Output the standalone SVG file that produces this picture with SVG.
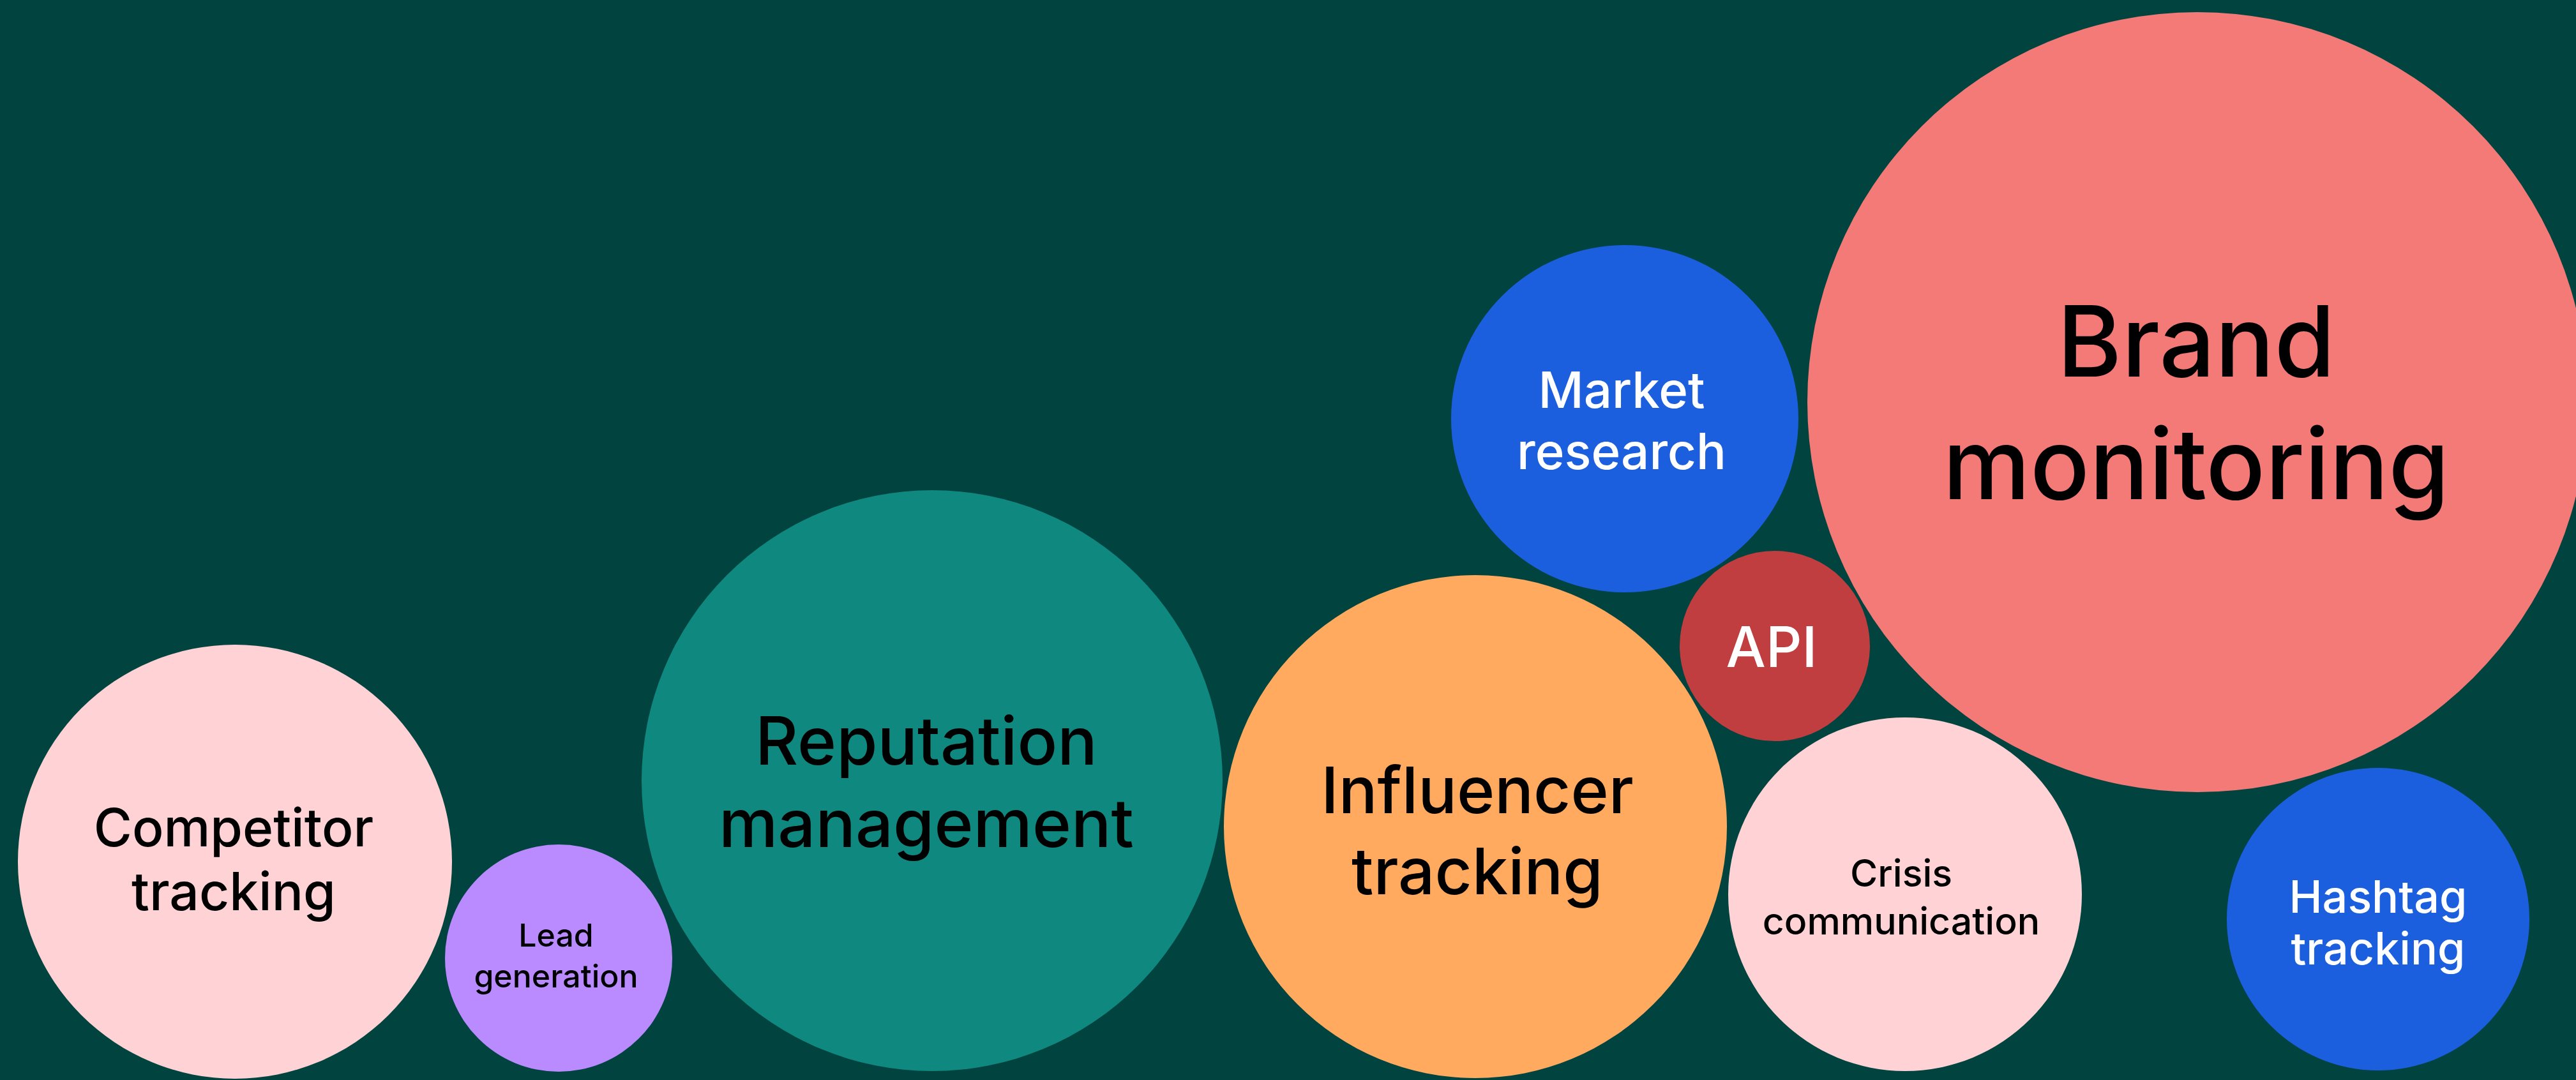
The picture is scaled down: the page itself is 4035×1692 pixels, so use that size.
<svg xmlns="http://www.w3.org/2000/svg" width="4035" height="1692" viewBox="0 0 4035 1692">
<style>
text{font-family:Inter,"Liberation Sans",sans-serif;font-weight:500;text-anchor:middle}
.dk{fill:#000000}
.lt{fill:#ffffff}
.pink{fill:#FFD3D5}
.blue{fill:#1B5FDF}
</style>
<rect width="4035" height="1692" fill="#01443F"/>
<g id="competitor-tracking">
<circle class="pink" cx="368" cy="1350" r="340"/>
<text class="dk" x="366" y="1326" font-size="82">Competitor</text>
<text class="dk" x="366" y="1426" font-size="82">tracking</text>
</g>
<g id="lead-generation">
<circle cx="875" cy="1501" r="178" fill="#B98BFF"/>
<text class="dk" x="871" y="1483" font-size="50">Lead</text>
<text class="dk" x="871" y="1547" font-size="50">generation</text>
</g>
<g id="reputation-management">
<circle cx="1460" cy="1223" r="455" fill="#0F8880"/>
<text class="dk" x="1451" y="1198" font-size="104">Reputation</text>
<text class="dk" x="1451" y="1327" font-size="104">management</text>
</g>
<g id="influencer-tracking">
<circle cx="2311" cy="1295" r="394" fill="#FFAA5F"/>
<text class="dk" x="2314" y="1274" font-size="101">Influencer</text>
<text class="dk" x="2314" y="1401" font-size="101">tracking</text>
</g>
<g id="market-research">
<circle class="blue" cx="2545" cy="656" r="272"/>
<text class="lt" x="2540" y="639" font-size="78">Market</text>
<text class="lt" x="2540" y="735" font-size="78">research</text>
</g>
<g id="api">
<circle cx="2780" cy="1012" r="149" fill="#C03E3F"/>
<text class="lt" x="2775" y="1045" font-size="88">API</text>
</g>
<g id="brand-monitoring">
<circle cx="3442" cy="630" r="611" fill="#F47A78"/>
<text class="dk" x="3440" y="590" font-size="154">Brand</text>
<text class="dk" x="3440" y="782" font-size="154">monitoring</text>
</g>
<g id="crisis-communication">
<circle class="pink" cx="2984" cy="1401" r="277"/>
<text class="dk" x="2978" y="1389" font-size="59">Crisis</text>
<text class="dk" x="2978" y="1464" font-size="59">communication</text>
</g>
<g id="hashtag-tracking">
<circle class="blue" cx="3725" cy="1440" r="237"/>
<text class="lt" x="3725" y="1430" font-size="70">Hashtag</text>
<text class="lt" x="3725" y="1511" font-size="70">tracking</text>
</g>
<g id="connectors"/>
</svg>
